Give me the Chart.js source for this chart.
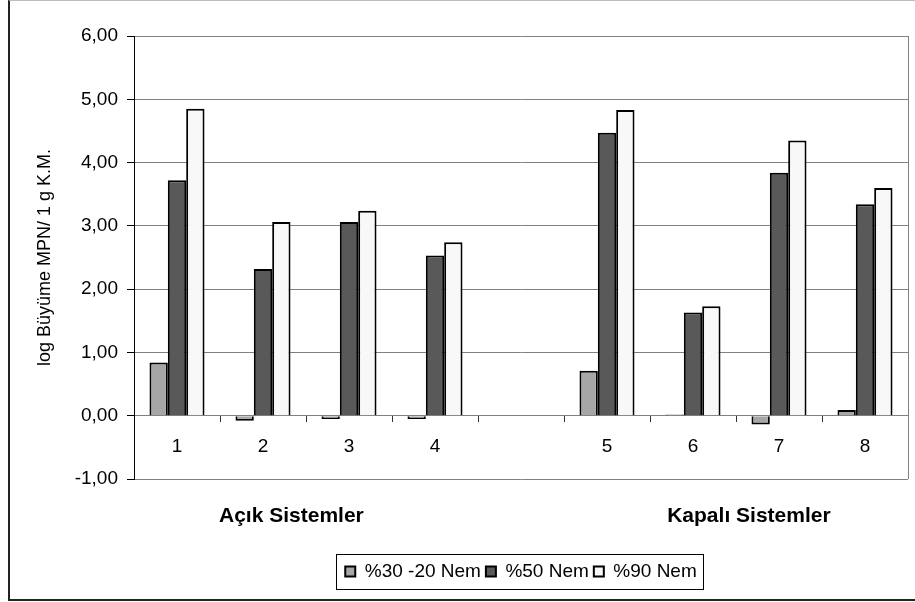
<!DOCTYPE html>
<html>
<head>
<meta charset="utf-8">
<script src="https://cdn.jsdelivr.net/npm/chart.js@4.4.1/dist/chart.umd.min.js"></script>
<style>
    html, body { margin: 0; padding: 0; background: #fff; overflow: hidden; }
    #wrap { position: relative; width: 915px; height: 602px; }
    #frame {
        position: absolute; left: 8px; top: 0; width: 920px; height: 598px;
        border-top: 1px solid #bdbdbd; border-left: 2px solid #222; border-bottom: 2px solid #222;
    }
    #chart { position: absolute; left: 0; top: 0; }
</style>
</head>
<body>
<div id="wrap">
    <div id="frame"></div>
    <canvas id="chart" width="915" height="602"></canvas>
</div>
<script>
// Sample numbers; the empty slot separates open and closed systems
const categories = ['1', '2', '3', '4', '', '5', '6', '7', '8'];
const nem30 = [0.84, -0.08, -0.05, -0.05, null, 0.71, 0.02, -0.14, 0.09];
const nem50 = [3.72, 2.32, 3.06, 2.53, null, 4.47, 1.63, 3.84, 3.34];
const nem90 = [4.85, 3.06, 3.24, 2.74, null, 4.83, 1.73, 4.35, 3.60];
const seriesNames = ['%30 -20 Nem', '%50 Nem', '%90 Nem'];
const groupNames = ['Açık Sistemler', 'Kapalı Sistemler'];
const groupCenters = [1.33, 6.65];
const yTicks = [-1, 0, 1, 2, 3, 4, 5, 6];

const FONT = "'Liberation Sans', Arial, sans-serif";

// frame around plot area and box around the legend
const boxes = {
    id: 'boxes',
    afterDraw(chart) {
        const ctx = chart.ctx;
        const a = chart.chartArea;
        ctx.save();
        ctx.strokeStyle = '#808080';
        ctx.lineWidth = 1;
        ctx.beginPath();
        ctx.moveTo(Math.round(a.right) + 0.5, a.top);
        ctx.lineTo(Math.round(a.right) + 0.5, a.bottom);
        ctx.stroke();

        const hb = chart.legend.legendHitBoxes;
        if (hb && hb.length) {
            const left = Math.min(...hb.map(h => h.left)) - 9;
            const right = Math.max(...hb.map(h => h.left + h.width)) + 6;
            const top = hb[0].top - 8;
            const bottom = hb[0].top + hb[0].height + 8;
            ctx.strokeStyle = '#000';
            ctx.strokeRect(Math.round(left) + 0.5, Math.round(top) + 0.5, Math.round(right - left), Math.round(bottom - top));
        }
        ctx.restore();
    }
};

const barStyle = { borderColor: '#000', borderWidth: 2, categoryPercentage: 0.64, barPercentage: 1 };

new Chart(document.getElementById('chart'), {
    type: 'bar',
    data: {
        labels: categories,
        datasets: [
            { label: seriesNames[0], data: nem30, backgroundColor: '#a6a6a6', ...barStyle },
            { label: seriesNames[1], data: nem50, backgroundColor: '#595959', ...barStyle },
            { label: seriesNames[2], data: nem90, backgroundColor: '#f8f8f8', ...barStyle }
        ]
    },
    options: {
        responsive: false,
        animation: false,
        layout: { padding: { left: 20, top: 36, right: 7, bottom: 11 } },
        plugins: {
            legend: {
                position: 'bottom',
                fullSize: false,
                labels: {
                    font: { family: FONT, size: 19 },
                    color: '#000',
                    boxWidth: 10,
                    boxHeight: 10,
                    padding: 5
                }
            },
            tooltip: { enabled: false }
        },
        scales: {
            x: {
                position: { y: 0 },
                grid: { display: true, drawOnChartArea: false, offset: true, tickLength: 6, tickColor: '#333' },
                border: { color: '#808080' },
                ticks: { font: { family: FONT, size: 19 }, color: '#000', padding: 14, maxRotation: 0 }
            },
            // second bottom axis carries the two group names
            x2: {
                type: 'linear',
                position: 'bottom',
                offset: false,
                min: -0.5,
                max: 8.5,
                grid: { display: false, drawTicks: false, offset: false },
                border: { display: false },
                afterBuildTicks: (s) => { s.ticks = groupCenters.map(v => ({ value: v })); },
                afterFit: (s) => { s.height = 78; },
                ticks: {
                    font: { family: FONT, size: 21, weight: 'bold' },
                    color: '#000',
                    padding: 25,
                    maxRotation: 0,
                    autoSkip: false,
                    callback: (v, i) => groupNames[i]
                }
            },
            y: {
                min: -1,
                max: 6,
                afterBuildTicks: (s) => { s.ticks = yTicks.map(v => ({ value: v })); },
                afterFit: (s) => { s.width = 114; },
                grid: { color: '#808080', tickColor: '#000', tickLength: 7 },
                border: { color: '#000' },
                ticks: {
                    font: { family: FONT, size: 19 },
                    color: '#000',
                    padding: 9,
                    callback: (v) => v.toFixed(2).replace('.', ',')
                },
                title: {
                    display: true,
                    text: 'log Büyüme MPN/ 1 g K.M.',
                    font: { family: FONT, size: 18 },
                    color: '#000',
                    padding: { top: 14, bottom: 0 }
                }
            }
        }
    },
    plugins: [boxes]
});
</script>
</body>
</html>
